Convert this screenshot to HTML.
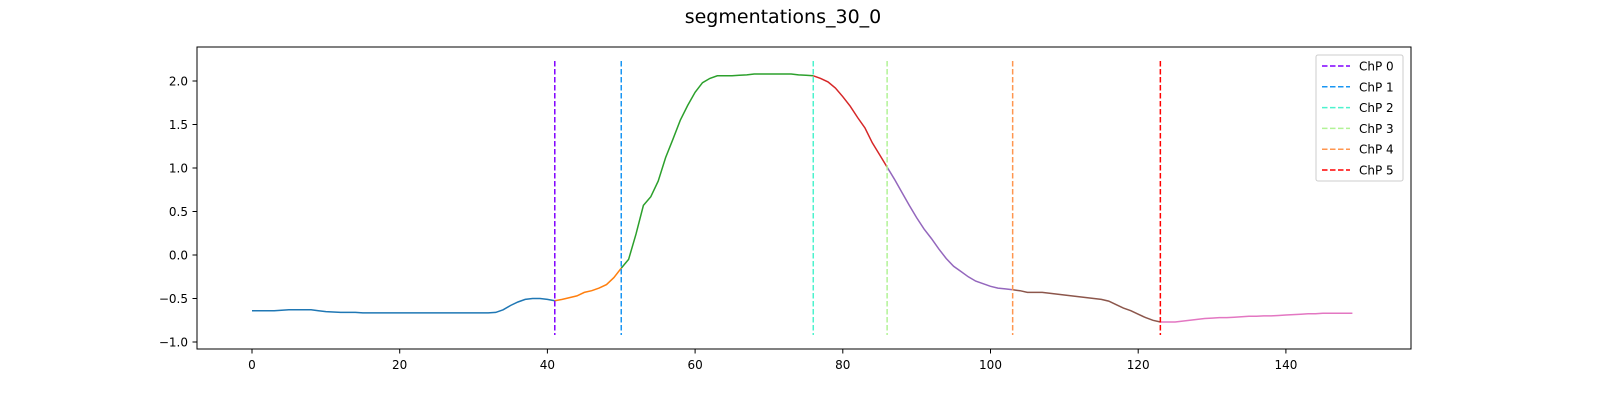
<!DOCTYPE html>
<html><head><meta charset="utf-8"><style>
html,body{margin:0;padding:0;width:1600px;height:400px;overflow:hidden;background:#fff;font-family:"Liberation Sans","DejaVu Sans",sans-serif}
svg{display:block}
</style></head><body>
<svg width="1600" height="400" viewBox="0 0 1600 400" xmlns="http://www.w3.org/2000/svg" font-family="DejaVu Sans, Liberation Sans, sans-serif">
<rect width="1600" height="400" fill="#fff"/>
<text x="783" y="23" font-size="19" text-anchor="middle">segmentations_30_0</text>
<g id="plot"></g>
<rect x="197" y="47" width="1214" height="302" fill="none" stroke="#000" stroke-width="1"/>
<g id="legend"></g>
</svg>
<script>
const values = [-0.64,-0.64,-0.64,-0.64,-0.635,-0.63,-0.63,-0.63,-0.63,-0.64,-0.65,-0.655,-0.66,-0.66,-0.66,-0.665,-0.665,-0.665,-0.665,-0.665,-0.665,-0.665,-0.665,-0.665,-0.665,-0.665,-0.665,-0.665,-0.665,-0.665,-0.665,-0.665,-0.665,-0.66,-0.63,-0.58,-0.54,-0.51,-0.50,-0.50,-0.51,-0.525,
-0.51,-0.49,-0.47,-0.43,-0.41,-0.38,-0.34,-0.26,-0.15,
-0.05,0.24,0.57,0.67,0.85,1.12,1.33,1.55,1.72,1.87,1.98,2.03,2.06,2.06,2.06,2.065,2.07,2.08,2.08,2.08,2.08,2.08,2.08,2.07,2.065,2.06,
2.03,1.99,1.92,1.82,1.71,1.58,1.46,1.29,1.15,1.01,
0.87,0.72,0.57,0.43,0.30,0.19,0.07,-0.04,-0.13,-0.19,-0.25,-0.30,-0.33,-0.36,-0.38,-0.39,-0.40,
-0.41,-0.43,-0.43,-0.43,-0.44,-0.45,-0.46,-0.47,-0.48,-0.49,-0.50,-0.51,-0.53,-0.57,-0.61,-0.64,-0.68,-0.72,-0.75,-0.77,
-0.77,-0.77,-0.76,-0.75,-0.74,-0.73,-0.725,-0.72,-0.72,-0.715,-0.71,-0.705,-0.705,-0.70,-0.70,-0.695,-0.69,-0.685,-0.68,-0.675,-0.675,-0.67,-0.67,-0.67,-0.67,-0.67];
const changepoints = [41,50,76,86,103,123];
const cpLabels = ["ChP 0","ChP 1","ChP 2","ChP 3","ChP 4","ChP 5"];
const xTicks = [0,20,40,60,80,100,120,140];
const yTicks = [-1.0,-0.5,0.0,0.5,1.0,1.5,2.0];
const segColors = ["#1f77b4","#ff7f0e","#2ca02c","#d62728","#9467bd","#8c564b","#e377c2"];
const cpColors = ["#8000ff","#1996f3","#4df3ce","#b2f396","#ff964f","#ff0000"];
const NS="http://www.w3.org/2000/svg";
const xs = v => 252 + v*7.385;
const ys = v => 255 - v*87;
const plot=document.getElementById('plot');
function mk(t,a){const e=document.createElementNS(NS,t);for(const k in a)e.setAttribute(k,a[k]);return e;}
xTicks.forEach(t=>{
 const l=mk('line',{x1:xs(t),x2:xs(t),y1:349,y2:353.5,stroke:'#000'});
 
 
 plot.appendChild(l);
 const tx=mk('text',{x:xs(t),y:369,'font-size':12,'text-anchor':'middle'});tx.textContent=t;
 
 
 plot.appendChild(tx);
});
yTicks.forEach(t=>{
 const l=mk('line',{x1:192.5,x2:197,y1:ys(t),y2:ys(t),stroke:'#000'});
 
 
 plot.appendChild(l);
 const tx=mk('text',{x:188,y:ys(t)+4.5,'font-size':12,'text-anchor':'end'});tx.textContent=t.toFixed(1).replace('-','\u2212');
 
 
 plot.appendChild(tx);
});
const bounds=[0,...changepoints,values.length-1];
for(let s=0;s<bounds.length-1;s++){
 let pts=[];for(let i=bounds[s];i<=bounds[s+1];i++)pts.push(xs(i).toFixed(1)+','+ys(values[i]).toFixed(1));
 const p=mk('polyline',{points:pts.join(' '),fill:'none',stroke:segColors[s],'stroke-width':1.5});
 
 
 plot.appendChild(p);
}
changepoints.forEach((c,i)=>{
 const l=mk('line',{x1:xs(c),x2:xs(c),y1:61,y2:335,stroke:cpColors[i],'stroke-width':1.5,'stroke-dasharray':'5.5,2.5'});
 
 
 plot.appendChild(l);
});
const lg=document.getElementById('legend');
const box=mk('rect',{x:1316,y:55,width:87,height:126,rx:2,fill:'#fff',stroke:'#ccc'});


lg.appendChild(box);
cpLabels.forEach((t,i)=>{
 const y=66+i*20.8;
 const l=mk('line',{x1:1322,x2:1350,y1:y,y2:y,stroke:cpColors[i],'stroke-width':1.5,'stroke-dasharray':'5.5,2.5'});
 
 
 lg.appendChild(l);
 const tx=mk('text',{x:1359,y:y+4.5,'font-size':12});tx.textContent=t;
 
 
 lg.appendChild(tx);
});
</script>
</body></html>
